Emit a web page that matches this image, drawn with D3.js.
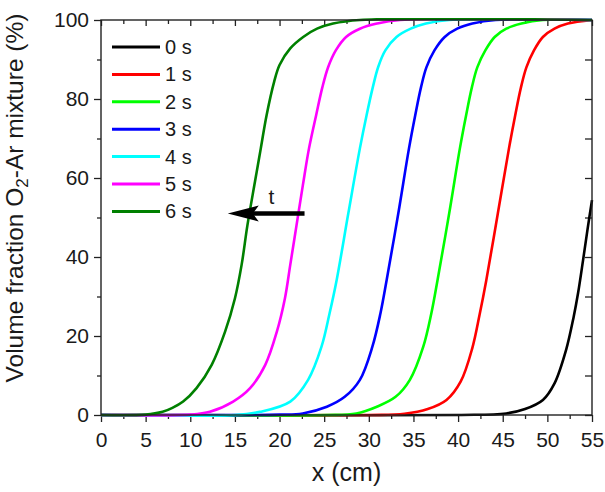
<!DOCTYPE html>
<html>
<head>
<meta charset="utf-8">
<script src="https://cdn.jsdelivr.net/npm/d3@7/dist/d3.min.js"></script>
<style>
  body { margin: 0; background: #fff; }
  svg text { font-family: "Liberation Sans", Arial, sans-serif; fill: #1a1a1a; }
</style>
</head>
<body>
<div id="chart"></div>
<script>
// series labels and colours (legend order)
var seriesNames = ["0 s", "1 s", "2 s", "3 s", "4 s", "5 s", "6 s"];
var seriesColors = ["#000000", "#ff0000", "#00ff00", "#0000ff", "#00ffff", "#ff00ff", "#008000"];

// [x (cm), volume fraction (%)]
var s0 = [[0, 0], [40, 0], [45.4, 0.4], [47.5, 1.5], [49.5, 3.8], [50.8, 8], [52.1, 16.5],
  [52.95, 24.9], [53.45, 31], [54.0, 39.2], [54.5, 47], [55, 54.4]];
var s1 = [[0, 0], [30, 0], [34, 0.3], [36.6, 1.5], [38.7, 3.8], [40.3, 8.5], [41.6, 17],
  [42.4, 25.3], [43.15, 34], [44.45, 51], [45.7, 67.5], [46.4, 75.9], [47.05, 83],
  [47.65, 88], [48.5, 92.3], [49.5, 95.7], [50.8, 97.8], [52.3, 99.1], [55, 100]];
var s2 = [[0, 0], [25, 0], [28.6, 0.4], [30.9, 2.1], [33.0, 4.6], [34.6, 8.9], [36.1, 17.3],
  [37.0, 25.7], [37.7, 34.2], [39.0, 51], [40.2, 67.5], [40.9, 75.9], [41.55, 83],
  [42.15, 88], [43.05, 92.3], [44.1, 95.7], [45.4, 97.8], [47.1, 99.1], [49.5, 100], [55, 100]];
var s3 = [[0, 0], [20, 0.1], [22.6, 0.4], [25.3, 2.1], [27.3, 4.6], [29.0, 8.9], [30.4, 17.3],
  [31.3, 25.7], [32.0, 34.2], [33.3, 51], [34.5, 67.5], [35.2, 75.9], [35.85, 83],
  [36.45, 88], [37.35, 92.3], [38.5, 95.7], [39.9, 97.8], [41.6, 99.1], [44.2, 100], [55, 100]];
var s4 = [[0, 0], [15, 0], [17.8, 0.8], [21.2, 3.4], [23.2, 8.9], [24.7, 17.3], [25.6, 25.7],
  [26.4, 34.2], [27.7, 51], [29.0, 67.5], [29.75, 75.9], [30.45, 83], [31.05, 88.1],
  [31.85, 92.3], [33.1, 95.7], [34.7, 97.8], [36.4, 99.1], [39, 100], [55, 100]];
var s5 = [[0, 0], [10, 0.1], [12.2, 0.8], [14.8, 3.4], [16.7, 6.8], [18.4, 12.7], [19.7, 21.1],
  [20.6, 29.5], [21.2, 38], [21.9, 48], [22.6, 58], [23.3, 67.5], [24.1, 75.9],
  [24.8, 83], [25.45, 88.1], [26.3, 92.3], [27.45, 95.7], [29.0, 97.8], [30.9, 99.1],
  [33.5, 100], [55, 100]];
var s6 = [[0, 0], [5, 0.1], [6.9, 0.8], [8, 1.8], [9.2, 3.4], [10.7, 6.8], [12.4, 12.7],
  [13.9, 21.1], [15.0, 29.5], [15.75, 38], [16.4, 48], [17.25, 59.1], [17.9, 67.5],
  [18.55, 75.9], [19.4, 84.4], [20.0, 88.6], [21.2, 92.8], [22.65, 95.7], [24.2, 97.8],
  [26.0, 99.1], [29, 100], [55, 100]];
var seriesData = [s0, s1, s2, s3, s4, s5, s6];

// axis ticks
var xMajor = [0, 5, 10, 15, 20, 25, 30, 35, 40, 45, 50, 55];
var xMinor = [2.5, 7.5, 12.5, 17.5, 22.5, 27.5, 32.5, 37.5, 42.5, 47.5, 52.5];
var yMajor = [0, 20, 40, 60, 80, 100];
var yMinor = [10, 30, 50, 70, 90];

// time arrow annotation: from, to (data units) and its label
var arrowFrom = [22.8, 51];
var arrowTo = [14.2, 51];
var arrowLabel = "t";

var W = 605, H = 492;
var margin = {top: 20, right: 13, bottom: 77, left: 101};
var w = W - margin.left - margin.right;
var h = H - margin.top - margin.bottom;

var svg = d3.select("#chart").append("svg").attr("width", W).attr("height", H);
var g = svg.append("g").attr("transform", "translate(" + margin.left + "," + margin.top + ")");

var x = d3.scaleLinear().domain([0, 55]).range([0, w]);
var y = d3.scaleLinear().domain([0, 100]).range([h, 0]);

function styleAxis(sel) {
  sel.select(".domain").remove();
  sel.selectAll(".tick line").attr("stroke", "#222").attr("stroke-width", 1.3);
  sel.selectAll(".tick text").attr("font-size", 21).attr("fill", "#1a1a1a");
}

// bottom / left: outward ticks with labels
g.append("g").attr("transform", "translate(0," + h + ")")
  .call(d3.axisBottom(x).tickValues(xMajor).tickSize(7).tickPadding(10))
  .call(styleAxis);
g.append("g").attr("transform", "translate(0," + h + ")")
  .call(d3.axisBottom(x).tickValues(xMinor).tickSize(4).tickFormat(""))
  .call(styleAxis);
g.append("g")
  .call(d3.axisLeft(y).tickValues(yMajor).tickSize(7).tickPadding(5))
  .call(styleAxis);
g.append("g")
  .call(d3.axisLeft(y).tickValues(yMinor).tickSize(4).tickFormat(""))
  .call(styleAxis);

// top / right: inward ticks, no labels
g.append("g")
  .call(d3.axisTop(x).tickValues(xMajor).tickSize(-6).tickFormat(""))
  .call(styleAxis);
g.append("g")
  .call(d3.axisTop(x).tickValues(xMinor).tickSize(-4).tickFormat(""))
  .call(styleAxis);
g.append("g").attr("transform", "translate(" + w + ",0)")
  .call(d3.axisRight(y).tickValues(yMajor).tickSize(-7).tickFormat(""))
  .call(styleAxis);
g.append("g").attr("transform", "translate(" + w + ",0)")
  .call(d3.axisRight(y).tickValues(yMinor).tickSize(-7).tickFormat(""))
  .call(styleAxis);

// curves
g.append("clipPath").attr("id", "plotclip")
  .append("rect").attr("x", -2).attr("y", -2).attr("width", w + 4).attr("height", h + 4);

var line = d3.line()
  .x(function (d) { return x(d[0]); })
  .y(function (d) { return y(Math.min(100, d[1])); })
  .curve(d3.curveCatmullRom.alpha(0.5));

g.append("g").attr("clip-path", "url(#plotclip)")
  .selectAll("path.curve").data(seriesData).enter().append("path")
  .attr("class", "curve")
  .attr("fill", "none")
  .attr("stroke", function (d, i) { return seriesColors[i]; })
  .attr("stroke-width", 2.6)
  .attr("stroke-linejoin", "round")
  .attr("d", line);

// frame
g.append("rect").attr("width", w).attr("height", h)
  .attr("fill", "none").attr("stroke", "#222").attr("stroke-width", 1.4);

// arrow
var ax0 = x(arrowFrom[0]), ay = y(arrowFrom[1]), ax1 = x(arrowTo[0]);
g.append("line")
  .attr("x1", ax0).attr("y1", ay).attr("x2", ax1 + 20).attr("y2", ay)
  .attr("stroke", "#000").attr("stroke-width", 4.5);
g.append("path")
  .attr("d", "M" + ax1 + "," + ay + " L" + (ax1 + 31) + "," + (ay - 8) +
    " L" + (ax1 + 25) + "," + ay + " L" + (ax1 + 31) + "," + (ay + 8) + "Z")
  .attr("fill", "#000");
g.append("text")
  .attr("x", x(19.1)).attr("y", ay - 10)
  .attr("text-anchor", "middle")
  .attr("font-size", 21)
  .text(arrowLabel);

// legend
var legend = g.append("g").attr("transform", "translate(11,27)");
var rows = legend.selectAll("g").data(seriesNames).enter().append("g")
  .attr("transform", function (d, i) { return "translate(0," + (i * 27.4) + ")"; });
rows.append("line")
  .attr("x1", 0).attr("x2", 48).attr("y1", 0).attr("y2", 0)
  .attr("stroke", function (d, i) { return seriesColors[i]; })
  .attr("stroke-width", 3);
rows.append("text")
  .attr("x", 53).attr("dy", "0.35em")
  .attr("font-size", 20)
  .text(function (d) { return d; });

// axis titles
svg.append("text")
  .attr("x", margin.left + w / 2).attr("y", 481)
  .attr("text-anchor", "middle")
  .attr("font-size", 25)
  .text("x (cm)");

var yt = svg.append("text")
  .attr("transform", "translate(23,198) rotate(-90)")
  .attr("text-anchor", "middle")
  .attr("font-size", 24.5);
yt.append("tspan").text("Volume fraction O");
yt.append("tspan").attr("font-size", 17).attr("dy", 5).text("2");
yt.append("tspan").attr("dy", -5).text("-Ar mixture (%)");
</script>
</body>
</html>
